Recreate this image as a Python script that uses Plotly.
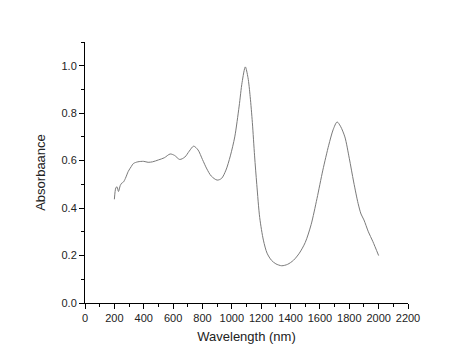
import plotly.graph_objects as go

wavelength = [200, 210, 218, 228, 240, 250, 262, 275, 295, 315, 330, 360, 400, 430, 460,
              500, 540, 580, 610, 645, 680, 710, 740, 770, 800, 830, 860, 900, 930, 960,
              990, 1020, 1050, 1070, 1092, 1110, 1125, 1140, 1155, 1170, 1190, 1215, 1240,
              1270, 1300, 1340, 1380, 1420, 1460, 1500, 1540, 1580, 1620, 1660, 1690, 1717,
              1740, 1770, 1800, 1830, 1860, 1880, 1900, 1930, 1960, 2000]
absorbance = [0.437, 0.485, 0.49, 0.47, 0.495, 0.505, 0.51, 0.525, 0.555, 0.575, 0.588, 0.595,
              0.597, 0.593, 0.595, 0.603, 0.612, 0.628, 0.622, 0.605, 0.615, 0.64, 0.661, 0.645,
              0.605, 0.565, 0.535, 0.518, 0.525, 0.56, 0.62, 0.70, 0.83, 0.93, 0.995, 0.95,
              0.87, 0.76, 0.62, 0.50, 0.36, 0.265, 0.21, 0.18, 0.165, 0.157, 0.163, 0.18, 0.21,
              0.255, 0.33, 0.44, 0.56, 0.665, 0.73, 0.763, 0.745, 0.70, 0.61, 0.51, 0.42, 0.375,
              0.35, 0.30, 0.26, 0.20]

x_ticks = list(range(0, 2201, 200))
y_ticks = [0.0, 0.2, 0.4, 0.6, 0.8, 1.0]

fig = go.Figure(go.Scatter(
    x=wavelength, y=absorbance, mode="lines",
    line=dict(color="#7a7a7a", width=1, shape="spline", smoothing=0.8),
    showlegend=False, hoverinfo="skip"))

axis_font = dict(family="Liberation Sans, Arial, sans-serif", size=11, color="#222")
fig.update_layout(
    width=474, height=364,
    margin=dict(l=77, r=74, t=34, b=69),
    paper_bgcolor="white", plot_bgcolor="white",
    font=axis_font,
    xaxis=dict(range=[0, 2200], tickvals=x_ticks, ticktext=[str(v) for v in x_ticks],
               showline=True, linecolor="black", linewidth=1, ticks="outside",
               ticklen=5, tickcolor="black", showgrid=False, zeroline=False, automargin=False,
               minor=dict(dtick=100, ticks="outside", ticklen=3, tickcolor="black"),
               title=dict(text="Wavelength (nm)", font=dict(size=13), standoff=8)),
    yaxis=dict(range=[0, 1.1], tickvals=y_ticks, ticktext=[f"{v:.1f}" for v in y_ticks],
               showline=True, linecolor="black", linewidth=1, ticks="outside",
               ticklen=5, tickcolor="black", showgrid=False, zeroline=False, automargin=False,
               minor=dict(dtick=0.1, ticks="outside", ticklen=3, tickcolor="black"),
               title=dict(text="Absorbaance", font=dict(size=13), standoff=12)),
)
fig.write_html("out.html")
